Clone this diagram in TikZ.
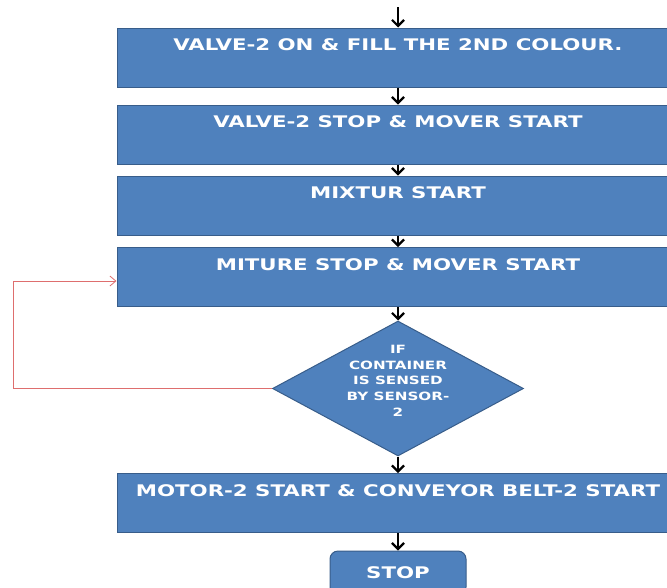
\documentclass[tikz,border=0pt]{standalone}
\usepackage{fontspec}
\newfontfamily\flowfont[FakeStretch=1.33]{DejaVu Sans}
\usepackage{tikz}
\usetikzlibrary{shapes.geometric, arrows.meta, positioning}
\definecolor{FlowBlue}{RGB}{79, 129, 189}
\definecolor{FlowEdge}{RGB}{56, 93, 138}
\definecolor{FlowLoop}{RGB}{222, 110, 110}

\tikzset{
  stepbox/.style={
    rectangle, fill=FlowBlue, draw=FlowEdge, line width=1pt,
    minimum width=562pt, minimum height=59pt, inner sep=0pt,
    text=white, align=center,
    font=\flowfont\fontsize{16}{25}\selectfont\bfseries
  },
  stopbox/.style={
    rectangle, rounded corners=8pt, fill=FlowBlue, draw=FlowEdge, line width=1pt,
    minimum width=136pt, minimum height=44pt, inner sep=0pt,
    text=white, font=\flowfont\fontsize{16}{22}\selectfont\bfseries
  },
  checkbox/.style={
    diamond, fill=FlowBlue, draw=FlowEdge, line width=1pt,
    minimum width=251pt, minimum height=135pt, inner sep=-40pt,
    text=white, align=center,
    font=\flowfont\fontsize{11.4}{15.7}\selectfont\bfseries
  },
  flow/.style={-{Straight Barb[length=6pt, width=12pt, line width=2.2pt]}, line width=2.2pt, black},
  loop/.style={-{Straight Barb[length=6pt, width=10pt]}, line width=0.8pt, FlowLoop}
}

\begin{document}
\begin{tikzpicture}[x=1pt, y=-1pt]
  \clip (0,0) rectangle (667,587);
  \useasboundingbox (0,0) rectangle (667,587);

  % process steps
  \node[stepbox] (valve-on)   at (398,57.5) {VALVE-2 ON \& FILL THE 2ND COLOUR.\\~};
  \node[stepbox] (valve-stop) at (398,134.5) {VALVE-2 STOP \& MOVER START\\~};
  \node[stepbox] (mix-start)  at (398,205.5) {MIXTUR START\\~};
  \node[stepbox] (mix-stop)   at (398,277) {MITURE STOP \& MOVER START\\~};

  % sensor check
  \node[checkbox] (sensor) at (398,388.5) {IF\\CONTAINER\\IS SENSED\\BY SENSOR-\\2\\~};

  \node[stepbox] (motor) at (398,503) {MOTOR-2 START \& CONVEYOR BELT-2 START\\~};
  \node[stopbox] (stop)  at (398,573) {STOP};

  \coordinate (entry) at (398,7);
  \coordinate (loop-low) at (13,388.5);
  \coordinate (loop-high) at (13,281);

  % connectors
  \draw[flow] (entry) -- (valve-on);
  \draw[flow] (valve-on) -- (valve-stop);
  \draw[flow] (valve-stop) -- (mix-start);
  \draw[flow] (mix-start) -- (mix-stop);
  \draw[flow] (mix-stop) -- (sensor);
  \draw[flow] (sensor) -- (motor);
  \draw[flow] (motor) -- (stop);
  \draw[loop] (sensor.west) -- (loop-low) -- (loop-high) -- (loop-high -| mix-stop.west);
\end{tikzpicture}
\end{document}
